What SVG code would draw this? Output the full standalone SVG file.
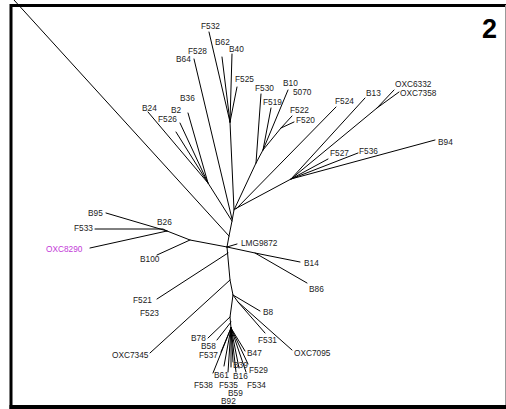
<svg xmlns="http://www.w3.org/2000/svg" width="506" height="409" viewBox="0 0 506 409">
<style>
.e{stroke:#000;stroke-width:1;fill:none;stroke-linecap:round;stroke-linejoin:round}
.t{font-family:"Liberation Sans",Arial,sans-serif;font-size:8.3px;fill:#222}
.m{fill:#c33ad8}
.frame{stroke:#000;fill:none}
</style>
<rect width="506" height="409" fill="#fff"/>
<g id="frame">
<line class="frame" x1="11" y1="5.5" x2="506" y2="5.5" stroke-width="3"/>
<line class="frame" x1="11" y1="4" x2="11" y2="409" stroke-width="3"/>
<line class="frame" x1="9.5" y1="407" x2="506" y2="407" stroke-width="4"/>
<line x1="505.5" y1="5" x2="505.5" y2="405" stroke="#999" stroke-width="1"/>
<text x="497" y="38" text-anchor="end" font-family="Liberation Sans,Arial,sans-serif" font-size="27" font-weight="bold" fill="#000">2</text>
</g>
<g id="connectors" class="e">
<path d="M14,0 L229,236"/>
<path d="M227,247 L229,236 L232,221 L234,210 L230,122"/>
<path d="M194,59 L232,219"/>
<path d="M209,32 L230,122 M222,57 L230,122 M232,54 L230,122 M237,87 L230,122"/>
<path d="M148,112 L208,183 M188,113 L208,183 M180,123 L208,183 M176,132 L208,183 M208,183 L232,221"/>
<path d="M336,107 L236,209"/>
<path d="M291,179 L235,209"/>
<path d="M256,163 L234,210 M261,94 L256,163 M256,163 L263,150 M271,108 L263,150 M288,90 L263,150 M281,128 L263,150 M292,116 L281,128 M294,122 L281,128"/>
<path d="M365,98 L291,179 M377,108 L291,179 M394,90 L377,108 M399,92 L377,108 M328,159 L291,179 M358,153 L291,179 M435,140 L291,179"/>
<path d="M106,213 L167,231 M95,229 L163,229 L167,231 M90,248 L167,231 M167,231 L190,240 L227,247 M157,255 L190,240"/>
<path d="M227,247 L237,244"/>
<path d="M227,247 L255,253 L300,262 M255,253 L307,283"/>
<path d="M157,299 L228,253"/>
<path d="M227,247 L230,280 L233,295 L230,317 L231,328"/>
<path d="M150,353 L230,280"/>
<path d="M233,295 L260,311"/>
<path d="M233,295 L238,302 L265,333 M238,302 L292,350"/>
<path d="M208,338 L230,317 M217,340 L231,322"/>
<path d="M231,328 L221,352 M231,328 L213,373 M231,328 L224,366 M231,328 L228,372 M231,328 L231,367 M231,328 L233,362 M231,328 L236,372 M231,328 L239,368 M231,328 L245,351 M231,328 L248,364 M231,328 L246,372"/>
</g>
<g id="F532"><text class="t" x="201" y="29">F532</text></g>
<g id="B62"><text class="t" x="215" y="45">B62</text></g>
<g id="B40"><text class="t" x="229" y="52">B40</text></g>
<g id="F528"><text class="t" x="188" y="54">F528</text></g>
<g id="B64"><text class="t" x="176" y="62">B64</text></g>
<g id="F525"><text class="t" x="235" y="82">F525</text></g>
<g id="B36"><text class="t" x="180" y="101">B36</text></g>
<g id="B24"><text class="t" x="142" y="111">B24</text></g>
<g id="B2"><text class="t" x="171" y="113">B2</text></g>
<g id="F526"><text class="t" x="158" y="122">F526</text></g>
<g id="F530"><text class="t" x="255" y="91">F530</text></g>
<g id="B10"><text class="t" x="283" y="86">B10</text></g>
<g id="n5070"><text class="t" x="293" y="95">5070</text></g>
<g id="F519"><text class="t" x="263" y="105">F519</text></g>
<g id="F522"><text class="t" x="290" y="113">F522</text></g>
<g id="F520"><text class="t" x="296" y="123">F520</text></g>
<g id="F524"><text class="t" x="335" y="104">F524</text></g>
<g id="B13"><text class="t" x="366" y="96">B13</text></g>
<g id="OXC6332"><text class="t" x="395" y="86.5">OXC6332</text></g>
<g id="OXC7358"><text class="t" x="400" y="95.5">OXC7358</text></g>
<g id="F527"><text class="t" x="330" y="156">F527</text></g>
<g id="F536"><text class="t" x="359" y="154">F536</text></g>
<g id="B94"><text class="t" x="438" y="145">B94</text></g>
<g id="B95"><text class="t" x="88" y="216">B95</text></g>
<g id="F533"><text class="t" x="74" y="231">F533</text></g>
<g id="OXC8290"><text class="t m" x="46" y="252">OXC8290</text></g>
<g id="B26"><text class="t" x="157" y="225">B26</text></g>
<g id="B100"><text class="t" x="140" y="262">B100</text></g>
<g id="LMG9872"><text class="t" x="241" y="246">LMG9872</text></g>
<g id="B14"><text class="t" x="304" y="266">B14</text></g>
<g id="B86"><text class="t" x="309" y="292">B86</text></g>
<g id="F521"><text class="t" x="133" y="303">F521</text></g>
<g id="F523"><text class="t" x="140" y="316">F523</text></g>
<g id="OXC7345"><text class="t" x="112" y="358">OXC7345</text></g>
<g id="B8"><text class="t" x="263" y="315">B8</text></g>
<g id="F531"><text class="t" x="258" y="343">F531</text></g>
<g id="OXC7095"><text class="t" x="294" y="356">OXC7095</text></g>
<g id="B78"><text class="t" x="191" y="341">B78</text></g>
<g id="B58"><text class="t" x="201" y="349">B58</text></g>
<g id="F537"><text class="t" x="199" y="358">F537</text></g>
<g id="B47"><text class="t" x="247" y="356">B47</text></g>
<g id="B39"><text class="t" x="233" y="368">B39</text></g>
<g id="F529"><text class="t" x="249" y="373">F529</text></g>
<g id="B61"><text class="t" x="214" y="378">B61</text></g>
<g id="B16"><text class="t" x="233" y="379">B16</text></g>
<g id="F538"><text class="t" x="194" y="388">F538</text></g>
<g id="F535"><text class="t" x="219" y="388">F535</text></g>
<g id="F534"><text class="t" x="247" y="388">F534</text></g>
<g id="B59"><text class="t" x="228" y="396">B59</text></g>
<g id="B92"><text class="t" x="221" y="404">B92</text></g>
</svg>
